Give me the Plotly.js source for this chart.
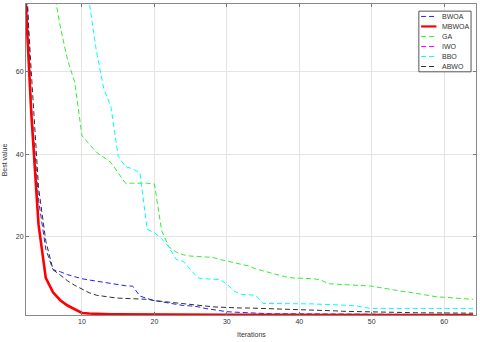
<!DOCTYPE html>
<html>
<head>
<script src="https://cdn.plot.ly/plotly-3.0.1.min.js"></script>
<style>body{margin:0;padding:0;background:#fff}</style>
</head>
<body>
<div id="myDiv" style="width:480px;height:342px"></div>
<script>
var iters = [];
for (var i = 1; i <= 64; i++) iters.push(i);

// values, one per iteration (1..64)
var bwoa = [140, 100, 52, 29, 17, 12, 11.5, 10.8, 10.3, 9.8, 9.5, 9.2, 8.9, 8.6, 8.3, 8.1, 8.0, 5.6,
  5.0, 4.5, 4.2, 3.9, 3.5, 3.3, 3.2, 3.0, 2.6, 2.3, 2.0, 1.8, 1.7, 1.6, 1.5, 1.4, 1.35, 1.3, 1.3,
  1.3, 1.28, 1.27, 1.26, 1.25, 1.24, 1.23, 1.22, 1.21, 1.2, 1.2, 1.19, 1.18, 1.17, 1.16, 1.15,
  1.15, 1.14, 1.13, 1.12, 1.12, 1.11, 1.1, 1.1, 1.1, 1.09, 1.08];
var mbwoa = [120, 85, 50, 23, 10, 6.5, 4.6, 3.3, 2.3, 1.5, 1.35, 1.25, 1.2, 1.17, 1.15, 1.13,
  1.12, 1.11, 1.1, 1.09, 1.08, 1.07, 1.07, 1.06, 1.06, 1.05, 1.05, 1.05, 1.04, 1.04, 1.04, 1.03,
  1.03, 1.03, 1.03, 1.02, 1.02, 1.02, 1.02, 1.02, 1.01, 1.01, 1.01, 1.01, 1.01, 1.01, 1.01, 1.0,
  1.0, 1.0, 1.0, 1.0, 1.0, 1.0, 1.0, 1.0, 1.0, 1.0, 1.0, 1.0, 1.0, 1.0, 1.0, 1.0];
var ga = [180, 150, 125, 105, 92, 81, 71, 63, 57.5, 44.5, 42.5, 40.5, 39.3, 38, 35.5, 33, 33, 33,
  33, 32.8, 21.5, 17.5, 16.3, 15.6, 15.3, 15.2, 15.1, 15, 14.5, 14.1, 13.8, 13.3, 12.9, 12.2, 11.7,
  11.2, 10.7, 10.3, 10, 9.9, 9.9, 9.8, 9.5, 8.6, 8.5, 8.4, 8.3, 8.2, 8.1, 8.0, 7.7, 7.4, 7.0, 6.8,
  6.6, 6.3, 6.0, 5.7, 5.4, 5.3, 5.2, 5.1, 5.0, 4.8];
var iwo = [260, 240, 225, 212, 200, 190, 182, 175, 168, 162, 157, 152, 148, 144, 140, 137, 134,
  131, 128, 126, 124, 122, 120, 118, 116, 114, 113, 112, 111, 110, 109, 108, 107, 106, 105, 104,
  103, 102, 101, 100, 99, 98, 97, 96, 95, 94, 93, 92, 91, 90, 89, 88, 87.5, 87, 86.5, 86, 85.5,
  85, 84.5, 84, 83.5, 83, 82.5, 82];
var bbo = [250, 210, 180, 160, 145, 132, 120, 110, 101, 90, 77, 65, 56, 51.5, 39.5, 37, 36.5,
  35.5, 21.8, 21, 19.5, 17.5, 14.5, 14, 12, 10, 9.8, 9.7, 9.6, 8.5, 6.8, 6.0, 5.9, 5.8, 3.8, 3.8,
  3.8, 3.8, 3.7, 3.7, 3.7, 3.7, 3.6, 3.6, 3.5, 3.4, 3.3, 3.2, 2.8, 2.6, 2.6, 2.6, 2.6, 2.6, 2.6,
  2.6, 2.6, 2.6, 2.6, 2.6, 2.6, 2.6, 2.6, 2.6];
var abwo = [130, 90, 60, 32, 19, 12, 10.7, 9.3, 8.2, 7.2, 6.4, 5.8, 5.5, 5.3, 5.1, 5.0, 4.9, 4.9,
  4.8, 4.5, 4.3, 4.1, 3.9, 3.7, 3.5, 3.4, 3.2, 3.0, 2.9, 2.8, 2.75, 2.7, 2.7, 2.65, 2.6, 2.55, 2.5,
  2.5, 2.45, 2.4, 2.3, 2.2, 2.2, 2.1, 2.0, 1.9, 1.85, 1.8, 1.75, 1.7, 1.65, 1.62, 1.6, 1.58, 1.56,
  1.55, 1.53, 1.52, 1.5, 1.5, 1.48, 1.47, 1.46, 1.45];

var names = ['BWOA', 'MBWOA', 'GA', 'IWO', 'BBO', 'ABWO'];
var series = [bwoa, mbwoa, ga, iwo, bbo, abwo];
var colors = ['#2020ff', '#ff0000', '#33ee33', '#ff00ff', '#00ffff', '#303030'];
var dashes = ['5px,3px', 'solid', '5px,3px', '5px,3px', '5px,3px', '5px,3px'];
var widths = [1, 2.6, 1, 1, 1, 1];

var fam = 'Liberation Sans, Arial, sans-serif';
var axFont = {family: fam, size: 7, color: '#333'};

var data = [];
for (var k = 0; k < names.length; k++) {
  data.push({x: iters, y: series[k], name: names[k], type: 'scatter', mode: 'lines',
    line: {color: colors[k], dash: dashes[k], width: widths[k]}});
}

// compact MATLAB-like legend box, drawn in plot-area fractions
var shapes = [{type: 'rect', xref: 'paper', yref: 'paper', x0: 0.873, x1: 0.989, y0: 0.782, y1: 0.977,
  line: {color: '#555', width: 1}, fillcolor: '#fff', layer: 'above'}];
var annotations = [];
for (var k = 0; k < names.length; k++) {
  var yy = 0.96 - k * 0.0322;
  shapes.push({type: 'line', xref: 'paper', yref: 'paper', x0: 0.878, x1: 0.912, y0: yy, y1: yy,
    line: {color: colors[k], dash: dashes[k], width: widths[k] > 2 ? 2.2 : 1}, layer: 'above'});
  annotations.push({xref: 'paper', yref: 'paper', x: 0.921, y: yy, xanchor: 'left', yanchor: 'middle',
    text: names[k], showarrow: false, font: axFont});
}
annotations.push({xref: 'paper', yref: 'paper', x: 0.5, y: -0.064, xanchor: 'center', yanchor: 'middle',
  text: 'Iterations', showarrow: false, font: axFont});
annotations.push({xref: 'paper', yref: 'paper', x: -0.047, y: 0.5, xanchor: 'center', yanchor: 'middle',
  text: 'Best value', textangle: -90, showarrow: false, font: axFont});

var layout = {
  width: 480, height: 342,
  margin: {l: 26, r: 4, t: 4, b: 27},
  paper_bgcolor: '#fff', plot_bgcolor: '#fff',
  showlegend: false,
  font: axFont,
  xaxis: {range: [2.27, 64.4], tickvals: [10, 20, 30, 40, 50, 60], ticks: 'inside', ticklen: 3,
    tickcolor: '#777', showline: true, linecolor: '#888', linewidth: 1, mirror: 'ticks',
    showgrid: true, gridcolor: '#e4e4e4', zeroline: false, tickfont: axFont, automargin: false},
  yaxis: {range: [1.0, 76.5], tickvals: [20, 40, 60], ticks: 'inside', ticklen: 3,
    tickcolor: '#777', showline: true, linecolor: '#888', linewidth: 1, mirror: 'ticks',
    showgrid: true, gridcolor: '#e4e4e4', zeroline: false, tickfont: axFont, automargin: false},
  shapes: shapes,
  annotations: annotations
};

Plotly.newPlot('myDiv', data, layout, {displayModeBar: false, staticPlot: true});
</script>
</body>
</html>
